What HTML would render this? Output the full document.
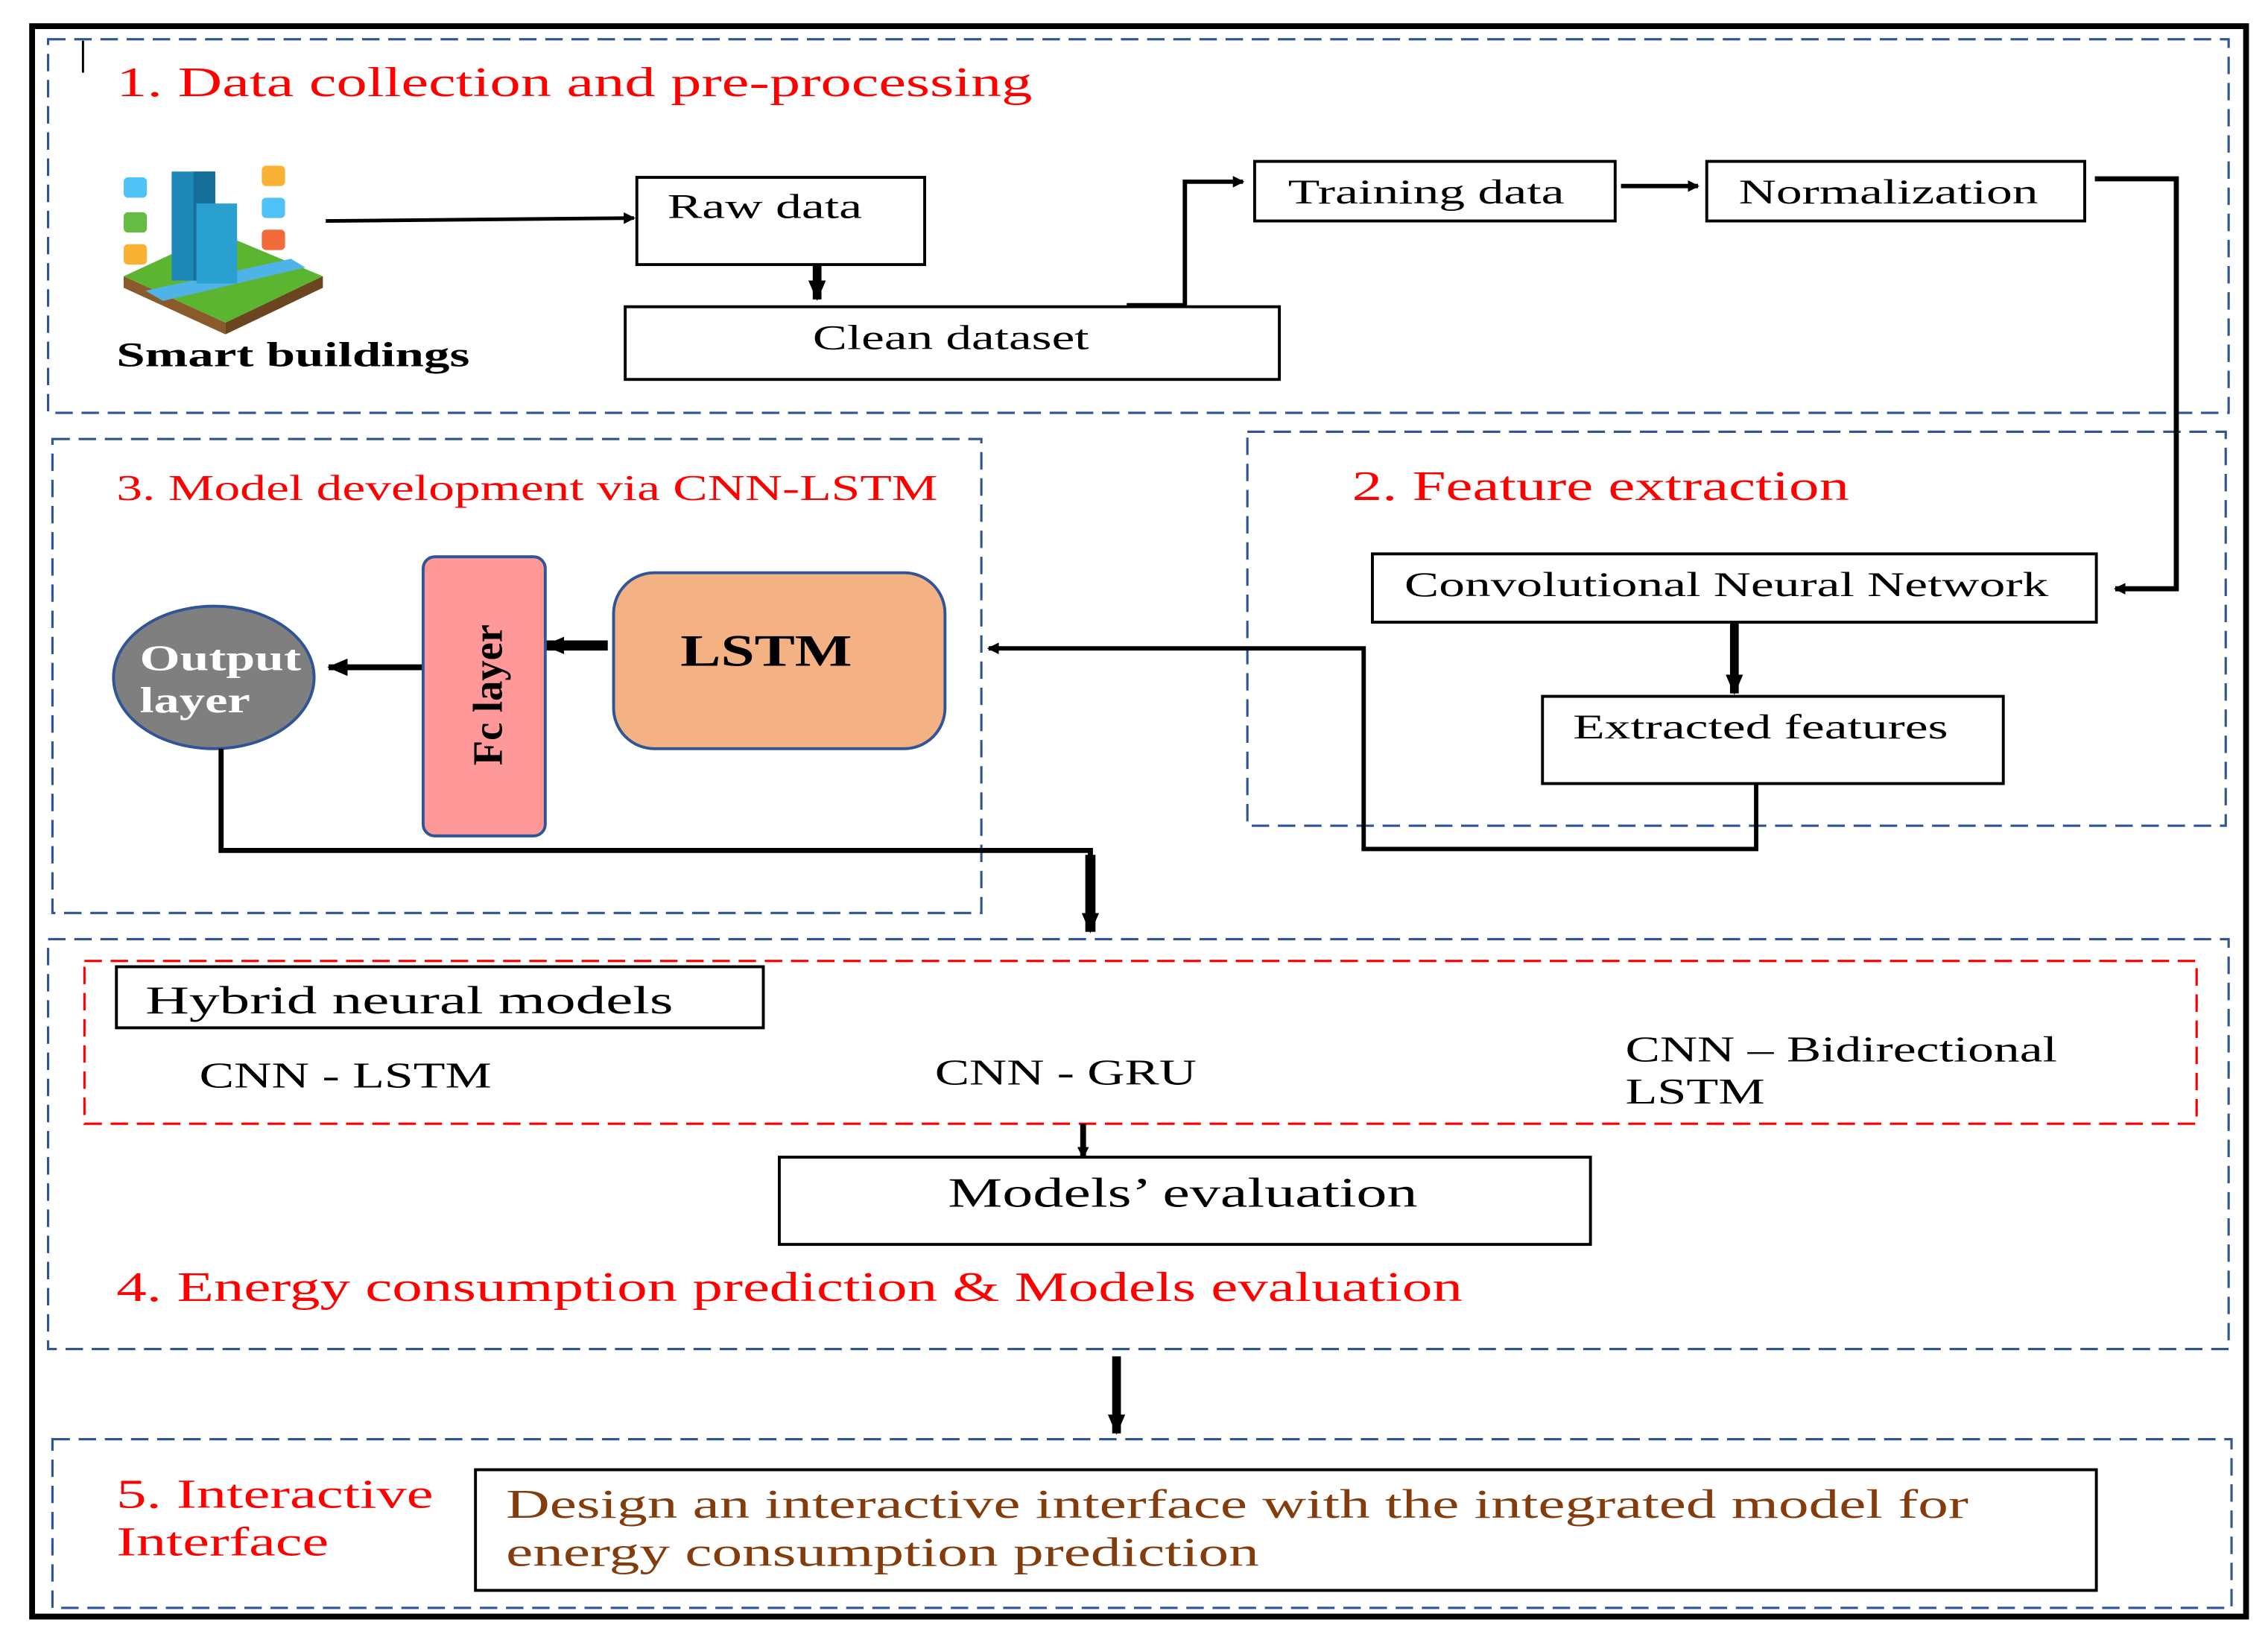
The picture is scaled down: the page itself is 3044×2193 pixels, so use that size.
<!DOCTYPE html>
<html><head><meta charset="utf-8"><style>
html,body{margin:0;padding:0;background:#fff;}
svg{display:block;}
</style></head><body>
<svg width="3044" height="2193" viewBox="0 0 1560 1124" xmlns="http://www.w3.org/2000/svg" font-family="'Liberation Serif','DejaVu Serif',serif">
<defs>
<marker id="a" markerWidth="8" markerHeight="8" refX="7" refY="4" orient="auto" markerUnits="userSpaceOnUse"><path d="M0,0 L8,4 L0,8 Z" fill="#000"/></marker>
<marker id="b" markerWidth="14" markerHeight="12" refX="13" refY="6" orient="auto" markerUnits="userSpaceOnUse"><path d="M0,0 L14,6 L0,12 Z" fill="#000"/></marker>
</defs>
<rect x="0" y="0" width="1560" height="1124" fill="#fff"/>
<rect x="22" y="18" width="1523" height="1094" fill="none" stroke="#000" stroke-width="4"/>
<g fill="none" stroke="#2f5597" stroke-width="1.6" stroke-dasharray="12,6">
<rect x="33" y="27" width="1500" height="257"/>
<rect x="36" y="302" width="639" height="326"/>
<rect x="858" y="297" width="673" height="271"/>
<rect x="33" y="646" width="1500" height="282"/>
<rect x="36" y="990" width="1499" height="116"/>
</g>
<rect x="58" y="661" width="1453" height="112" fill="none" stroke="#ff0000" stroke-width="1.6" stroke-dasharray="12,6"/>
<line x1="57" y1="28" x2="57" y2="50" stroke="#000" stroke-width="1.5"/>

<g font-family="'Liberation Serif','DejaVu Serif',serif" lengthAdjust="spacingAndGlyphs">
<text x="80" y="66" font-size="29" fill="#ff0000" textLength="630" lengthAdjust="spacingAndGlyphs">1.  Data collection and pre-processing</text>
<text x="80" y="252" font-size="24" font-weight="bold" fill="#000" textLength="243" lengthAdjust="spacingAndGlyphs">Smart buildings</text>
<text x="459" y="150" font-size="24" textLength="134" lengthAdjust="spacingAndGlyphs">Raw data</text>
<text x="559" y="240" font-size="24" textLength="190" lengthAdjust="spacingAndGlyphs">Clean dataset</text>
<text x="886" y="140" font-size="24" textLength="190" lengthAdjust="spacingAndGlyphs">Training data</text>
<text x="1196" y="140" font-size="24" textLength="206" lengthAdjust="spacingAndGlyphs">Normalization</text>
<text x="80" y="344" font-size="25" fill="#ff0000" textLength="565" lengthAdjust="spacingAndGlyphs">3. Model development via CNN-LSTM</text>
<text x="930" y="344" font-size="29" fill="#ff0000" textLength="342" lengthAdjust="spacingAndGlyphs">2. Feature extraction</text>
<text x="966" y="410" font-size="24" textLength="443" lengthAdjust="spacingAndGlyphs">Convolutional Neural Network</text>
<text x="1082" y="508" font-size="24" textLength="258" lengthAdjust="spacingAndGlyphs">Extracted features</text>
</g>

<!-- smart building icon -->
<g>
<polygon points="85,190 150,160 222,190 155,222" fill="#5cb531"/>
<polygon points="85,190 155,222 155,230 85,198" fill="#8a5a2b"/>
<polygon points="155,222 222,190 222,198 155,230" fill="#6b4420"/>
<polygon points="100,200 200,178 210,184 112,207" fill="#4fb3e8"/>
<rect x="118" y="118" width="30" height="75" fill="#1e88b8"/>
<rect x="133" y="118" width="15" height="75" fill="#156f99"/>
<rect x="135" y="140" width="28" height="55" fill="#2aa0d0"/>
<rect x="85" y="122" width="16" height="14" rx="3" fill="#4fc3f7"/>
<rect x="85" y="146" width="16" height="14" rx="3" fill="#66bb44"/>
<rect x="85" y="168" width="16" height="14" rx="3" fill="#f9b233"/>
<rect x="180" y="114" width="16" height="14" rx="3" fill="#f9b233"/>
<rect x="180" y="136" width="16" height="14" rx="3" fill="#4fc3f7"/>
<rect x="180" y="158" width="16" height="14" rx="3" fill="#f26b3a"/>
</g>

<line x1="224" y1="152" x2="436" y2="150" stroke="#000" stroke-width="2.5" marker-end="url(#a)"/>
<rect x="438" y="122" width="198" height="60" fill="none" stroke="#000" stroke-width="2"/>
<line x1="562" y1="182" x2="562" y2="206" stroke="#000" stroke-width="6" marker-end="url(#b)"/>
<rect x="430" y="211" width="450" height="50" fill="none" stroke="#000" stroke-width="2"/>
<polyline points="775,210 815,210 815,125 855,125" fill="none" stroke="#000" stroke-width="3" marker-end="url(#a)"/>
<rect x="863" y="111" width="248" height="41" fill="none" stroke="#000" stroke-width="2"/>
<line x1="1115" y1="128" x2="1168" y2="128" stroke="#000" stroke-width="3" marker-end="url(#a)"/>
<rect x="1174" y="111" width="260" height="41" fill="none" stroke="#000" stroke-width="2"/>
<polyline points="1441,123 1497,123 1497,405 1455,405" fill="none" stroke="#000" stroke-width="3.5" marker-end="url(#a)"/>

<rect x="944" y="381" width="498" height="47" fill="none" stroke="#000" stroke-width="2"/>
<line x1="1193" y1="428" x2="1193" y2="477" stroke="#000" stroke-width="6" marker-end="url(#b)"/>
<rect x="1061" y="479" width="317" height="60" fill="none" stroke="#000" stroke-width="2"/>
<polyline points="1208,539 1208,584 938,584 938,446 680,446" fill="none" stroke="#000" stroke-width="3" marker-end="url(#a)"/>

<rect x="422" y="394" width="228" height="121" rx="28" fill="#f4b183" stroke="#2f5597" stroke-width="2"/>
<text x="468" y="458" font-size="31" font-weight="bold" textLength="118" lengthAdjust="spacingAndGlyphs">LSTM</text>
<line x1="418" y1="444" x2="375" y2="444" stroke="#000" stroke-width="7" marker-end="url(#b)"/>
<rect x="291" y="383" width="84" height="192" rx="8" fill="#ff9999" stroke="#2f5597" stroke-width="2"/>
<text x="0" y="0" font-size="29" font-weight="bold" text-anchor="middle" textLength="97" lengthAdjust="spacingAndGlyphs" transform="translate(345,478) rotate(-90)">Fc layer</text>
<line x1="290" y1="459" x2="226" y2="459" stroke="#000" stroke-width="4" marker-end="url(#b)"/>
<ellipse cx="147" cy="466" rx="69" ry="49" fill="#7f7f7f" stroke="#2f5597" stroke-width="2"/>
<text x="96" y="461" font-size="25" font-weight="bold" fill="#fff" textLength="111" lengthAdjust="spacingAndGlyphs">Output</text>
<text x="96" y="490" font-size="25" font-weight="bold" fill="#fff" textLength="76" lengthAdjust="spacingAndGlyphs">layer</text>
<polyline points="152,515 152,585 750,585 750,610" fill="none" stroke="#000" stroke-width="3.5"/>
<line x1="750" y1="588" x2="750" y2="641" stroke="#000" stroke-width="7" marker-end="url(#b)"/>

<rect x="80" y="665" width="445" height="42" fill="none" stroke="#000" stroke-width="2"/>
<text x="100" y="697" font-size="27" textLength="363" lengthAdjust="spacingAndGlyphs">Hybrid neural models</text>
<text x="137" y="748" font-size="25" textLength="201" lengthAdjust="spacingAndGlyphs">CNN - LSTM</text>
<text x="643" y="746" font-size="25" textLength="180" lengthAdjust="spacingAndGlyphs">CNN - GRU</text>
<text x="1118" y="730" font-size="25" textLength="297" lengthAdjust="spacingAndGlyphs">CNN – Bidirectional</text>
<text x="1118" y="759" font-size="25" textLength="96" lengthAdjust="spacingAndGlyphs">LSTM</text>
<line x1="745" y1="773" x2="745" y2="796" stroke="#000" stroke-width="4" marker-end="url(#a)"/>
<rect x="536" y="796" width="558" height="60" fill="none" stroke="#000" stroke-width="2"/>
<text x="652" y="830" font-size="29" textLength="323" lengthAdjust="spacingAndGlyphs">Models’ evaluation</text>
<text x="80" y="895" font-size="29" fill="#ff0000" textLength="926" lengthAdjust="spacingAndGlyphs">4. Energy consumption prediction &amp; Models evaluation</text>
<line x1="768" y1="933" x2="768" y2="986" stroke="#000" stroke-width="6" marker-end="url(#b)"/>

<text x="80" y="1037" font-size="28" fill="#ff0000" textLength="218" lengthAdjust="spacingAndGlyphs">5. Interactive</text>
<text x="80" y="1070" font-size="28" fill="#ff0000" textLength="146" lengthAdjust="spacingAndGlyphs">Interface</text>
<rect x="327" y="1011" width="1115" height="83" fill="none" stroke="#000" stroke-width="2"/>
<text x="348" y="1044" font-size="28" fill="#843c0c" textLength="1006" lengthAdjust="spacingAndGlyphs">Design an interactive interface with the integrated model for</text>
<text x="348" y="1077" font-size="28" fill="#843c0c" textLength="518" lengthAdjust="spacingAndGlyphs">energy consumption prediction</text>
</svg>
</body></html>
